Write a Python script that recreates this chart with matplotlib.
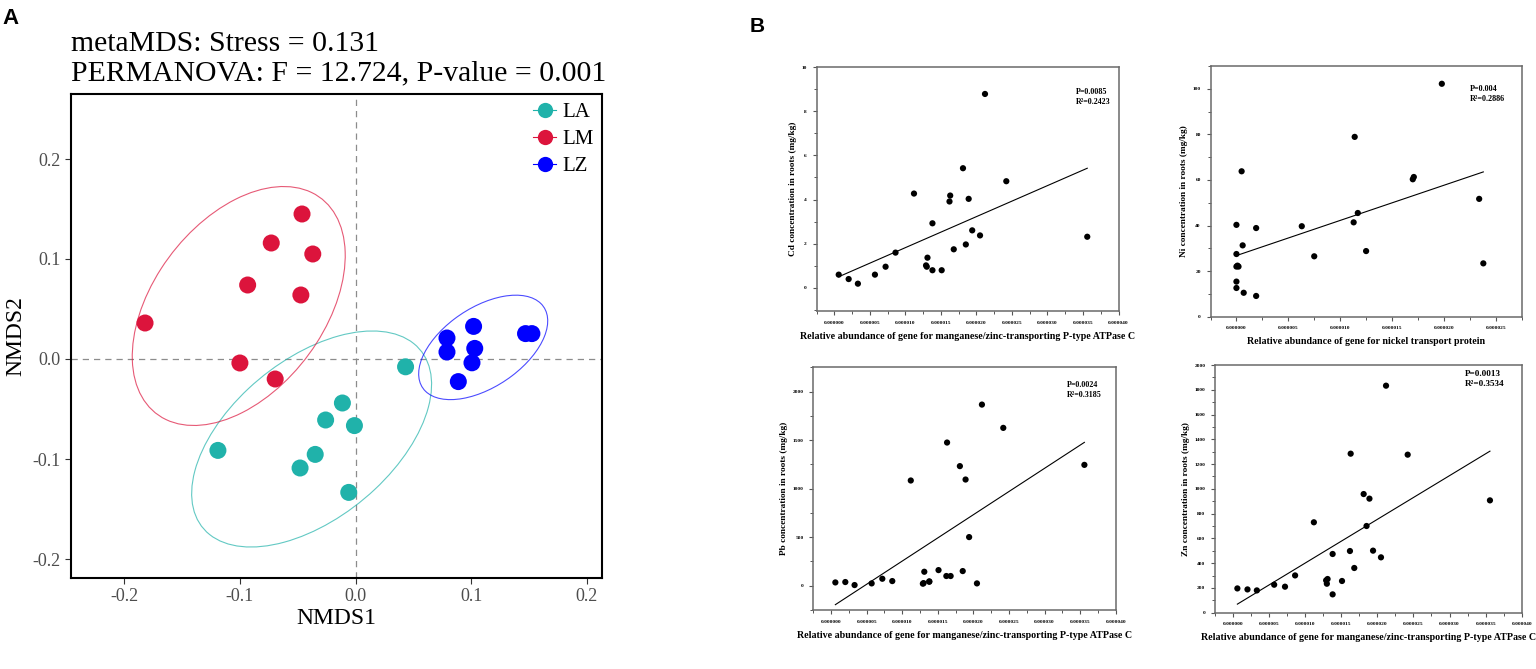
import numpy as np
import matplotlib
matplotlib.use("Agg")
import matplotlib.pyplot as plt
from matplotlib.ticker import MultipleLocator, FormatStrFormatter
from matplotlib.lines import Line2D
from matplotlib.patches import Ellipse

# ---------------- Panel A data (NMDS) ----------------
groups = ["LA", "LM", "LZ"]
group_colors = ["#20B2AA", "#DC143C", "#0000FF"]
la_x = [0.0432, -0.0114, -0.0259, -0.0010, -0.1190, -0.0349, -0.0480, -0.0059]
la_y = [-0.0078, -0.0440, -0.0610, -0.0666, -0.0914, -0.0954, -0.1090, -0.1334]
lm_x = [-0.0463, -0.0729, -0.0370, -0.0933, -0.0473, -0.1820, -0.1000, -0.0695]
lm_y = [0.1450, 0.1160, 0.1050, 0.0740, 0.0640, 0.0360, -0.0040, -0.0200]
lz_x = [0.0790, 0.1020, 0.0790, 0.1030, 0.1006, 0.0888, 0.1469, 0.1524]
lz_y = [0.0210, 0.0326, 0.0070, 0.0106, -0.0038, -0.0226, 0.0254, 0.0254]

# 95% confidence ellipses (centre, full axes, rotation in degrees), order LA, LM, LZ
ell_cx = [-0.038, -0.101, 0.1103]
ell_cy = [-0.080, 0.053, 0.0116]
ell_w = [0.260, 0.2596, 0.1328]
ell_h = [0.1486, 0.1536, 0.0756]
ell_ang = [47.3, 61.0, 41.3]

# ---------------- Panel B data ----------------
mn_gene = [0.0000006, 0.0000020, 0.0000033, 0.0000057, 0.0000072, 0.0000086,
           0.0000112, 0.0000129, 0.0000130, 0.0000131, 0.0000138, 0.0000138,
           0.0000151, 0.0000162, 0.0000163, 0.0000168, 0.0000181, 0.0000185,
           0.0000189, 0.0000194, 0.0000205, 0.0000212, 0.0000242, 0.0000356]
cd_vals = [0.59, 0.39, 0.18, 0.59, 0.95, 1.59, 4.27, 1.01, 0.95, 1.36, 2.92, 0.79,
           0.79, 3.91, 4.18, 1.74, 5.42, 1.96, 4.03, 2.60, 2.37, 8.79, 4.83, 2.31]
pb_vals = [34, 38, 7, 24, 72, 48, 1084, 21, 27, 144, 41, 45,
           161, 100, 1475, 100, 1232, 151, 1094, 501, 24, 1866, 1626, 1245]
zn_vals = [196, 188, 180, 226, 210, 301, 730, 261, 234, 272, 474, 148,
           256, 498, 1284, 361, 958, 700, 921, 501, 447, 1833, 1276, 907]
ni_gene = [0.0, 0.0, 0.0, 0.0000001, 0.0000002, 0.0, 0.0, 0.0000005, 0.0000006,
           0.0000007, 0.0000019, 0.0000019, 0.0000063, 0.0000075, 0.0000113,
           0.0000114, 0.0000117, 0.0000125, 0.0000170, 0.0000171, 0.0000198,
           0.0000234, 0.0000238]
ni_vals = [40.3, 27.5, 22.0, 22.4, 22.0, 15.4, 12.6, 63.8, 31.3, 10.5, 38.9, 9.1,
           39.7, 26.5, 41.4, 78.9, 45.5, 28.8, 60.3, 61.3, 102.2, 51.7, 23.4]

stat_texts = {
    "Cd": "P=0.0085\nR\u00b2=0.2423",
    "Ni": "P=0.004\nR\u00b2=0.2886",
    "Pb": "P=0.0024\nR\u00b2=0.3185",
    "Zn": "P=0.0013\nR\u00b2=0.3534",
}
xlab_mn = "Relative abundance of gene for manganese/zinc-transporting P-type ATPase C"
xlab_ni = "Relative abundance of gene for nickel transport protein"

W, H = 1536, 669
fig = plt.figure(figsize=(W / 100, H / 100), dpi=100)


def add_ax(l, r, t, b):
    return fig.add_axes([l / W, 1 - b / H, (r - l) / W, (b - t) / H])


serif = "Liberation Serif"

# ---------------- Panel A ----------------
axA = add_ax(71, 602, 94, 578)
axA.axhline(0, color="#8c8c8c", lw=0.9, ls=(0, (5, 4)), zorder=1)
axA.axvline(0, color="#8c8c8c", lw=0.9, ls=(0, (5, 4)), zorder=1)
grp_data = [(la_x, la_y), (lm_x, lm_y), (lz_x, lz_y)]
for i, col in enumerate(group_colors):
    e = Ellipse((ell_cx[i], ell_cy[i]), ell_w[i], ell_h[i], angle=ell_ang[i],
                fill=False, edgecolor=col, lw=0.8, alpha=0.7, zorder=2)
    axA.add_patch(e)
for (gx, gy), col, name in zip(grp_data, group_colors, groups):
    axA.scatter(gx, gy, s=150, color=col, edgecolors="none", zorder=3, label=name)
axA.set_xlim(-0.246, 0.213)
axA.set_ylim(-0.219, 0.265)
axA.xaxis.set_major_locator(MultipleLocator(0.1))
axA.yaxis.set_major_locator(MultipleLocator(0.1))
axA.xaxis.set_major_formatter(FormatStrFormatter("%.1f"))
axA.yaxis.set_major_formatter(FormatStrFormatter("%.1f"))
for lab in axA.get_xticklabels() + axA.get_yticklabels():
    lab.set_fontfamily(serif)
axA.tick_params(axis="both", labelsize=13, labelcolor="#4D4D4D", color="#333333",
                length=4, width=0.8, direction="out")
for sp in axA.spines.values():
    sp.set_linewidth(1.5)
    sp.set_color("black")
axA.set_xlabel("NMDS1", fontfamily=serif, fontsize=17, labelpad=2)
axA.set_ylabel("NMDS2", fontfamily=serif, fontsize=17, labelpad=4)
handles = [Line2D([0], [0], marker="o", color=c, lw=0.8, markersize=11,
                  markeredgewidth=0) for c in group_colors]
leg = axA.legend(handles, groups, loc="upper right", frameon=False,
                 prop={"family": serif, "size": 15}, handlelength=1.1,
                 handletextpad=0.3, labelspacing=0.36, borderaxespad=0.3,
                 borderpad=0.1)
fig.text(71 / W, 1 - 51 / H, "metaMDS: Stress = 0.131", fontfamily=serif,
         fontsize=21.4, va="baseline", ha="left")
fig.text(71 / W, 1 - 80 / H, "PERMANOVA: F = 12.724, P-value = 0.001",
         fontfamily=serif, fontsize=21.4, va="baseline", ha="left")
fig.text(2 / W, 1 - 24 / H, "A", fontfamily="Liberation Sans", fontweight="bold",
         fontsize=16, va="baseline", ha="left")
fig.text(750 / W, 1 - 32 / H, "B", fontfamily="Liberation Sans", fontweight="bold",
         fontsize=15, va="baseline", ha="left")


# ---------------- Panel B ----------------
def scatter_panel(box, xs, ys, xlim, ylim, xmaj, ymaj, xfmt, ylabel, xlabel,
                  stat, stat_pos, stat_size):
    ax = add_ax(*box)
    xs = np.asarray(xs)
    ys = np.asarray(ys)
    ax.scatter(xs, ys, s=20, color="black", edgecolors="none", zorder=3)
    k, b = np.polyfit(xs, ys, 1)
    lx = np.array([xs.min(), xs.max()])
    ax.plot(lx, k * lx + b, color="black", lw=0.8, zorder=2)
    ax.set_xlim(*xlim)
    ax.set_ylim(*ylim)
    ax.xaxis.set_major_locator(MultipleLocator(xmaj))
    ax.xaxis.set_minor_locator(MultipleLocator(xmaj / 2))
    ax.yaxis.set_major_locator(MultipleLocator(ymaj))
    ax.yaxis.set_minor_locator(MultipleLocator(ymaj / 2))
    ax.xaxis.set_major_formatter(FormatStrFormatter(xfmt))
    ax.yaxis.set_major_formatter(FormatStrFormatter("%d"))
    for sp in ax.spines.values():
        sp.set_linewidth(1.1)
        sp.set_color("#6a6a6a")
    ax.tick_params(axis="both", which="major", length=3, width=0.8, color="#555555",
                   labelsize=3.9, pad=4)
    ax.tick_params(axis="both", which="minor", length=2, width=0.7, color="#555555")
    for lab in ax.get_xticklabels() + ax.get_yticklabels():
        lab.set_fontfamily(serif)
        lab.set_fontweight("bold")
    ax.set_xlabel(xlabel, fontfamily=serif, fontweight="bold", fontsize=7.2,
                  labelpad=5)
    ax.set_ylabel(ylabel, fontfamily=serif, fontweight="bold", fontsize=6.7,
                  labelpad=3)
    ax.text(stat_pos[0], stat_pos[1], stat, transform=ax.transAxes, ha="left",
            va="top", fontfamily=serif, fontweight="bold", fontsize=stat_size,
            linespacing=1.4)
    return ax


scatter_panel((816.7, 1118.5, 67.3, 311), mn_gene, cd_vals, (-0.0000025, 0.00004),
              (-1.06, 10), 0.000005, 2, "%.6f", "Cd concentration in roots (mg/kg)",
              xlab_mn, stat_texts["Cd"], (0.858, 0.915), 5.8)
scatter_panel((1210.5, 1521.7, 66, 316.7), ni_gene, ni_vals, (-0.0000025, 0.0000275),
              (0, 110), 0.000005, 20, "%.6f", "Ni concentration in roots (mg/kg)",
              xlab_ni, stat_texts["Ni"], (0.833, 0.925), 5.9)
scatter_panel((813.3, 1115.7, 367.3, 610), mn_gene, pb_vals, (-0.0000025, 0.00004),
              (-250, 2250), 0.000005, 500, "%.6f", "Pb concentration in roots (mg/kg)",
              xlab_mn, stat_texts["Pb"], (0.838, 0.945), 5.8)
scatter_panel((1215, 1521.7, 365, 612.7), mn_gene, zn_vals, (-0.0000025, 0.00004),
              (0, 2000), 0.000005, 200, "%.6f", "Zn concentration in roots (mg/kg)",
              xlab_mn, stat_texts["Zn"], (0.815, 0.98), 6.6)

fig.savefig("out.png", dpi=100)
